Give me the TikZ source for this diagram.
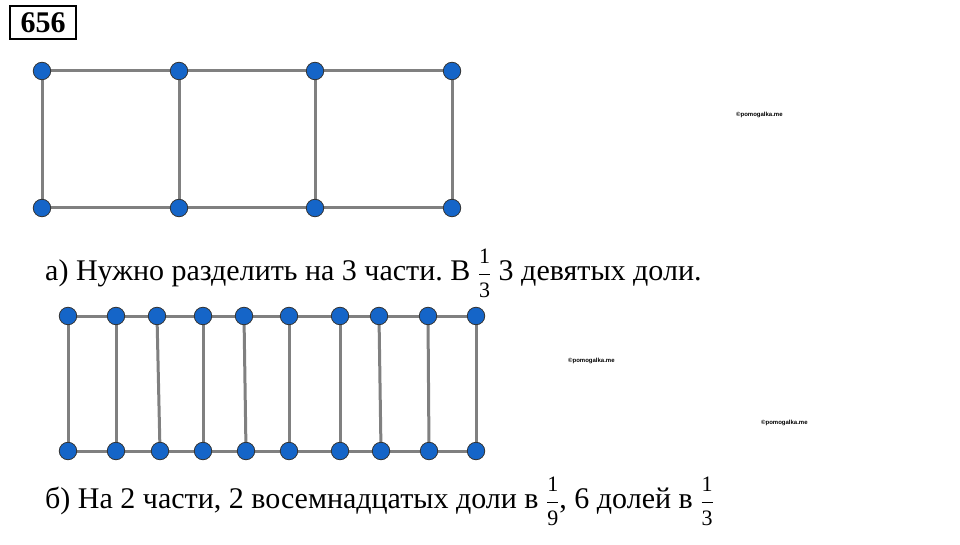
\documentclass[tikz,border=0pt]{standalone}
\usepackage{fontspec}
\setmainfont{Liberation Serif}
\newfontfamily\wmfont{Liberation Sans}
\definecolor{dotblue}{RGB}{21,101,200}
\definecolor{linegray}{RGB}{128,128,128}
\frenchspacing
\newcommand\myfr[2]{\ensuremath{\displaystyle{\hbox{\fontsize{22}{22}\selectfont #1}\over\hbox{\fontsize{22}{22}\selectfont #2}}}}
\begin{document}
\begin{tikzpicture}[x=1pt,y=-1pt,
  pt/.style={circle,fill=dotblue,draw=black!80,line width=0.8pt,inner sep=0pt,minimum size=17.5pt},
  edge/.style={draw=linegray,line width=3pt},
  txt/.style={font=\rmfamily\fontsize{30}{34}\selectfont,inner sep=0pt,anchor=base west},
  wm/.style={font=\wmfont\bfseries\fontsize{6}{6}\selectfont,inner sep=0pt,anchor=base west}]
\useasboundingbox (0,0) rectangle (960,545);
% title
\node[draw,line width=2pt,inner sep=0pt,font=\rmfamily\bfseries\fontsize{30}{30}\selectfont,anchor=north west,minimum width=66pt,minimum height=33pt] (title) at (9,5) {656};
% top figure
\foreach \i/\x in {1/42,2/179,3/315,4/452}{
  \coordinate (t\i) at (\x,71);
  \coordinate (b\i) at (\x,208);
}
\draw[edge] (t1) -- (t4) (b1) -- (b4);
\foreach \i in {1,...,4}{\draw[edge] (t\i) -- (b\i);}
\foreach \i in {1,...,4}{\node[pt] (T\i) at (t\i) {}; \node[pt] (B\i) at (b\i) {};}
% text a
\node[txt] (ta) at (45,280) {а) Нужно разделить на 3 части. В \myfr{1}{3} 3 девятых доли.};
% bottom figure
\foreach \i/\x/\y in {1/68/68,2/116/116,3/157/160,4/203/203,5/244/246,6/289/289,7/340/340,8/379/381,9/428/429,10/476/476}{
  \coordinate (u\i) at (\x,316);
  \coordinate (v\i) at (\y,451);
}
\draw[edge] (u1) -- (u10) (v1) -- (v10);
\foreach \i in {1,...,10}{\draw[edge] (u\i) -- (v\i);}
\foreach \i in {1,...,10}{\node[pt] (U\i) at (u\i) {}; \node[pt] (V\i) at (v\i) {};}
% text b
\node[txt] (tb) at (45,508) {б) На 2 части, 2 восемнадцатых доли в \myfr{1}{9}, 6 долей в \myfr{1}{3}};
% watermarks
\node[wm] (w1) at (736,117) {©pomogalka.me};
\node[wm] (w2) at (568,362) {©pomogalka.me};
\node[wm] (w3) at (761,424) {©pomogalka.me};
\end{tikzpicture}
\end{document}
